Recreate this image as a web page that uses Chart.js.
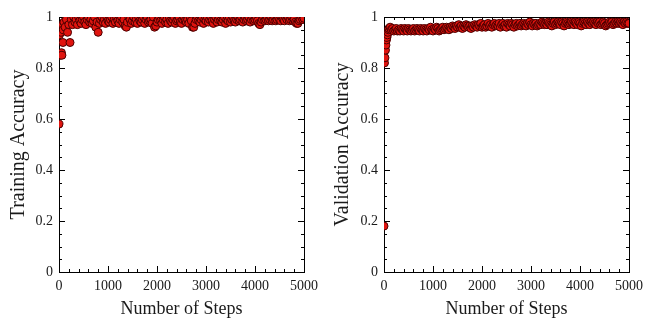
<!DOCTYPE html>
<html>
<head>
<meta charset="utf-8">
<script src="https://cdn.jsdelivr.net/npm/chart.js@4"></script>
<style>
  html, body { margin: 0; padding: 0; background: #fff; }
  .row { display: flex; width: 649px; height: 320px; }
  canvas { display: block; }
</style>
</head>
<body>
<div class="row">
  <canvas id="trainChart" width="324" height="320"></canvas>
  <canvas id="valChart" width="325" height="320"></canvas>
</div>
<script>
// steps where accuracy was logged
const steps = [0, 10, 20, 30, 40, 50, 60, 70, 80, 90, 100, 125, 150, 175, 200, 225, 250, 275,
  300, 325, 350, 375, 400, 425, 450, 475, 500, 525, 550, 575, 600, 625, 650, 675, 700, 725, 750, 775,
  800, 825, 850, 875, 900, 925, 950, 975, 1000, 1025, 1050, 1075, 1100, 1125, 1150, 1175, 1200, 1225, 1250, 1275,
  1300, 1325, 1350, 1375, 1400, 1425, 1450, 1475, 1500, 1525, 1550, 1575, 1600, 1625, 1650, 1675, 1700, 1725, 1750, 1775,
  1800, 1825, 1850, 1875, 1900, 1925, 1950, 1975, 2000, 2025, 2050, 2075, 2100, 2125, 2150, 2175, 2200, 2225, 2250, 2275,
  2300, 2325, 2350, 2375, 2400, 2425, 2450, 2475, 2500, 2525, 2550, 2575, 2600, 2625, 2650, 2675, 2700, 2725, 2750, 2775,
  2800, 2825, 2850, 2875, 2900, 2925, 2950, 2975, 3000, 3025, 3050, 3075, 3100, 3125, 3150, 3175, 3200, 3225, 3250, 3275,
  3300, 3325, 3350, 3375, 3400, 3425, 3450, 3475, 3500, 3525, 3550, 3575, 3600, 3625, 3650, 3675, 3700, 3725, 3750, 3775,
  3800, 3825, 3850, 3875, 3900, 3925, 3950, 3975, 4000, 4025, 4050, 4075, 4100, 4125, 4150, 4175, 4200, 4225, 4250, 4275,
  4300, 4325, 4350, 4375, 4400, 4425, 4450, 4475, 4500, 4525, 4550, 4575, 4600, 4625, 4650, 4675, 4700, 4725, 4750, 4775,
  4800, 4825, 4850, 4875, 4900, 4925, 4950, 4975, 5000];

const trainAcc = [0.58, 0.93, 0.85, 0.96, 0.94, 0.86, 0.85, 0.97, 0.90, 0.95, 0.98, 0.96, 0.99, 0.94, 0.97, 0.90, 0.99, 0.97,
  1.0, 0.98, 0.99, 0.97, 1.0, 0.985, 0.975, 0.99, 1.0, 0.98, 0.97, 0.99, 1.0, 0.98, 0.99, 0.975, 0.985, 1.0, 0.96, 0.98,
  0.94, 0.975, 0.99, 1.0, 0.98, 0.99, 0.975, 1.0, 0.985, 0.98, 0.99, 1.0, 0.975, 0.99, 0.98, 1.0, 0.985, 0.975, 0.99, 1.0,
  0.98, 0.99, 0.965, 0.96, 0.98, 1.0, 0.99, 0.975, 0.985, 1.0, 0.98, 0.99, 0.975, 1.0, 0.985, 0.98, 0.99, 1.0, 0.975, 0.99,
  1.0, 0.98, 0.985, 0.99, 0.975, 1.0, 0.96, 0.965, 0.98, 0.99, 1.0, 0.985, 0.975, 0.99, 1.0, 0.98, 0.99, 0.975, 1.0, 0.985,
  0.98, 0.99, 1.0, 0.975, 0.985, 0.99, 1.0, 0.98, 0.975, 0.99, 1.0, 0.985, 0.98, 0.99, 0.975, 1.0, 0.985, 0.96, 0.96, 0.975,
  0.99, 1.0, 0.985, 0.98, 0.99, 1.0, 0.975, 0.99, 0.985, 1.0, 0.98, 0.99, 1.0, 0.985, 0.975, 0.99, 1.0, 0.98, 0.99, 1.0,
  0.985, 0.98, 0.99, 1.0, 0.975, 0.99, 0.985, 1.0, 0.98, 0.99, 1.0, 0.985, 0.98, 0.99, 1.0, 0.985, 0.99, 1.0, 0.98, 0.99,
  1.0, 0.985, 0.99, 1.0, 0.98, 0.99, 1.0, 0.985, 0.99, 1.0, 0.985, 0.975, 0.97, 0.98, 0.99, 1.0, 0.985, 0.99, 1.0, 0.985,
  0.99, 1.0, 0.985, 0.99, 1.0, 0.985, 0.99, 1.0, 0.99, 0.985, 1.0, 0.99, 0.985, 1.0, 0.99, 1.0, 0.985, 0.99, 1.0, 0.985,
  0.99, 0.98, 0.975, 0.975, 0.985, 0.99, 1.0, 0.99, 0.995];

const valAcc = [0.18, 0.82, 0.84, 0.87, 0.89, 0.91, 0.92, 0.93, 0.94, 0.95, 0.955, 0.96, 0.95, 0.955, 0.945, 0.95, 0.955, 0.945,
  0.95, 0.945, 0.955, 0.95, 0.945, 0.955, 0.95, 0.945, 0.955, 0.95, 0.945, 0.95, 0.955, 0.945, 0.95, 0.955, 0.95, 0.945, 0.955, 0.95,
  0.945, 0.955, 0.95, 0.945, 0.955, 0.95, 0.96, 0.95, 0.945, 0.955, 0.95, 0.96, 0.955, 0.945, 0.95, 0.955, 0.96, 0.95, 0.955, 0.96,
  0.955, 0.95, 0.96, 0.955, 0.965, 0.96, 0.955, 0.965, 0.96, 0.97, 0.96, 0.965, 0.955, 0.965, 0.96, 0.97, 0.965, 0.96, 0.965, 0.955,
  0.965, 0.96, 0.97, 0.965, 0.96, 0.97, 0.965, 0.975, 0.96, 0.965, 0.97, 0.96, 0.965, 0.975, 0.965, 0.97, 0.96, 0.97, 0.975, 0.965,
  0.97, 0.965, 0.975, 0.96, 0.97, 0.975, 0.965, 0.97, 0.96, 0.975, 0.97, 0.965, 0.975, 0.97, 0.96, 0.97, 0.975, 0.965, 0.97, 0.975,
  0.965, 0.97, 0.975, 0.97, 0.965, 0.975, 0.97, 0.98, 0.97, 0.965, 0.975, 0.97, 0.975, 0.965, 0.97, 0.975, 0.97, 0.98, 0.975, 0.97,
  0.975, 0.97, 0.98, 0.975, 0.97, 0.965, 0.975, 0.98, 0.97, 0.975, 0.98, 0.975, 0.97, 0.98, 0.975, 0.965, 0.975, 0.98, 0.975, 0.97,
  0.975, 0.98, 0.975, 0.97, 0.98, 0.975, 0.97, 0.98, 0.975, 0.965, 0.975, 0.98, 0.975, 0.97, 0.98, 0.975, 0.97, 0.98, 0.975, 0.98,
  0.975, 0.97, 0.98, 0.975, 0.98, 0.97, 0.975, 0.98, 0.975, 0.965, 0.97, 0.975, 0.98, 0.975, 0.98, 0.97, 0.975, 0.98, 0.975, 0.98,
  0.975, 0.98, 0.975, 0.97, 0.98, 0.975, 0.98, 0.975, 0.975];

const xTickValues = [0, 1000, 2000, 3000, 4000, 5000];
const yTickValues = [0, 0.2, 0.4, 0.6, 0.8, 1];

const serif = "'Liberation Serif', 'Times New Roman', serif";
const textColor = '#1a1a1a';

// box frame + inward ticks on all four sides, drawn under the points
const framePlugin = {
  id: 'frame',
  beforeDatasetsDraw(chart) {
    const { ctx, chartArea: a, scales: { x, y } } = chart;
    ctx.save();
    ctx.strokeStyle = '#000';
    ctx.lineWidth = 1;
    ctx.beginPath();
    for (let v = 0; v <= 5000; v += 200) {
      const px = Math.round(x.getPixelForValue(v)) + 0.5;
      const len = v % 1000 === 0 ? 6 : 3;
      ctx.moveTo(px, a.bottom); ctx.lineTo(px, a.bottom - len);
      ctx.moveTo(px, a.top); ctx.lineTo(px, a.top + len);
    }
    for (let i = 0; i <= 20; i++) {
      const py = Math.round(y.getPixelForValue(i * 0.05)) + 0.5;
      const len = i % 4 === 0 ? 6 : 3;
      ctx.moveTo(a.left, py); ctx.lineTo(a.left + len, py);
      ctx.moveTo(a.right, py); ctx.lineTo(a.right - len, py);
    }
    ctx.stroke();
    ctx.strokeRect(Math.round(a.left) + 0.5, Math.round(a.top) + 0.5,
      Math.round(a.right - a.left), Math.round(a.bottom - a.top));
    ctx.restore();
  }
};

function makeChart(id, values, yTitle, yWidth, padRight) {
  new Chart(document.getElementById(id), {
    type: 'scatter',
    data: {
      datasets: [{
        data: steps.map((s, i) => ({ x: s, y: values[i] })),
        backgroundColor: '#e0140f',
        borderColor: '#4a0000',
        borderWidth: 1,
        pointRadius: 4,
        clip: 0
      }]
    },
    options: {
      responsive: false,
      animation: false,
      layout: { padding: { top: 17, right: padRight, left: 0, bottom: 0 } },
      plugins: { legend: { display: false }, tooltip: { enabled: false } },
      scales: {
        x: {
          type: 'linear', min: 0, max: 5000,
          grid: { display: false, drawTicks: false }, border: { display: false },
          afterBuildTicks: s => { s.ticks = xTickValues.map(v => ({ value: v })); },
          afterFit: s => { s.height = 48; },
          ticks: { color: textColor, font: { family: serif, size: 14 }, padding: 6, maxRotation: 0,
            callback: v => String(v) },
          title: { display: true, text: 'Number of Steps', color: textColor,
            font: { family: serif, size: 18 }, padding: { top: 0, bottom: 0 } }
        },
        y: {
          min: 0, max: 1,
          grid: { display: false, drawTicks: false }, border: { display: false },
          afterBuildTicks: s => { s.ticks = yTickValues.map(v => ({ value: v })); },
          afterFit: s => { s.width = yWidth; },
          ticks: { color: textColor, font: { family: serif, size: 14 }, padding: 6,
            callback: v => String(v) },
          title: { display: true, text: yTitle, color: textColor,
            font: { family: serif, size: 20 }, padding: { top: 7, bottom: 0 } }
        }
      }
    },
    plugins: [framePlugin]
  });
}

makeChart('trainChart', trainAcc, 'Training Accuracy', 59, 15);
makeChart('valChart', valAcc, 'Validation Accuracy', 60, 16);
</script>
</body>
</html>
